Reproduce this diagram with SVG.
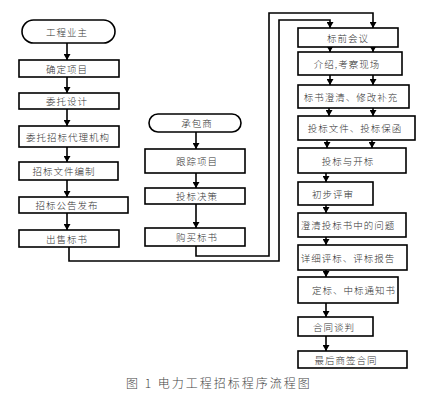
<svg xmlns="http://www.w3.org/2000/svg" width="439" height="403" viewBox="0 0 439 403">
<defs>
<marker id="ah" markerUnits="userSpaceOnUse" markerWidth="7" markerHeight="7" refX="6" refY="3.5" orient="auto">
<path d="M0,0 L6,3.5 L0,7 z" fill="#000"/>
</marker>
<style>
.b{fill:#fff;stroke:#000;stroke-width:1.6}
.t{font-family:"Noto Sans CJK SC","Noto Sans CJK JP",sans-serif;font-size:9.5px;font-weight:300;letter-spacing:1px;fill:#333;text-anchor:middle;dominant-baseline:central}
.c{fill:none;stroke:#000;stroke-width:1.6}
.a{fill:none;stroke:#000;stroke-width:1.6;marker-end:url(#ah)}
.cap{font-family:"Noto Sans CJK SC","Noto Sans CJK JP",sans-serif;font-size:12px;font-weight:300;letter-spacing:2px;fill:#444}
</style>
</defs>
<rect width="439" height="403" fill="#fff"/>
<g id="connectors">
<line class="a" x1="67" y1="43" x2="67" y2="60"/>
<line class="a" x1="67" y1="77" x2="67" y2="93"/>
<line class="a" x1="67" y1="109" x2="67" y2="126"/>
<line class="a" x1="67" y1="147" x2="67" y2="162"/>
<line class="a" x1="67" y1="180" x2="67" y2="197"/>
<line class="a" x1="67" y1="213" x2="67" y2="230"/>
<line class="a" x1="196" y1="132" x2="196" y2="149"/>
<line class="a" x1="196" y1="173" x2="196" y2="188"/>
<line class="a" x1="196" y1="204" x2="196" y2="228"/>
<polyline class="a" points="69,247 69,261 279,261 279,20 330,20 330,28"/>
<polyline class="a" points="196,246 196,256 269,256 269,13 373,13 373,28"/>
<line class="a" x1="330" y1="47" x2="330" y2="52"/>
<line class="a" x1="373" y1="47" x2="373" y2="52"/>
<line class="a" x1="330" y1="75" x2="330" y2="85"/>
<line class="a" x1="373" y1="75" x2="373" y2="85"/>
<line class="a" x1="329" y1="108" x2="329" y2="116"/>
<line class="a" x1="373" y1="108" x2="373" y2="116"/>
<line class="a" x1="327" y1="140" x2="327" y2="148"/>
<line class="a" x1="372" y1="140" x2="372" y2="148"/>
<line class="a" x1="326" y1="173" x2="326" y2="182"/>
<line class="a" x1="326" y1="205" x2="326" y2="213"/>
<line class="a" x1="326" y1="237" x2="326" y2="245"/>
<line class="a" x1="326" y1="270" x2="326" y2="277"/>
<line class="a" x1="326" y1="303" x2="326" y2="317"/>
<line class="a" x1="326" y1="336" x2="326" y2="351"/>
</g>
<g id="n_owner"><rect class="b" x="22" y="20" width="93" height="23" rx="11.5"/><text class="t" x="67" y="31.5">工程业主</text></g>
<g id="n_l1"><rect class="b" x="19" y="60" width="100" height="17"/><text class="t" x="67" y="68.5">确定项目</text></g>
<g id="n_l2"><rect class="b" x="19" y="93" width="100" height="16"/><text class="t" x="67" y="101">委托设计</text></g>
<g id="n_l3"><rect class="b" x="19" y="126" width="100" height="21"/><text class="t" x="68" y="136.5">委托招标代理机构</text></g>
<g id="n_l4"><rect class="b" x="19" y="162" width="99" height="18"/><text class="t" x="64" y="171">招标文件编制</text></g>
<g id="n_l5"><rect class="b" x="19" y="197" width="109" height="16"/><text class="t" x="67" y="205">招标公告发布</text></g>
<g id="n_l6"><rect class="b" x="19" y="230" width="100" height="17"/><text class="t" x="67" y="238.5">出售标书</text></g>
<g id="n_contractor"><rect class="b" x="149" y="114" width="92" height="18" rx="9"/><text class="t" x="197" y="123">承包商</text></g>
<g id="n_m1"><rect class="b" x="145" y="149" width="100" height="24"/><text class="t" x="197" y="161">跟踪项目</text></g>
<g id="n_m2"><rect class="b" x="145" y="188" width="100" height="16"/><text class="t" x="197" y="196">投标决策</text></g>
<g id="n_m3"><rect class="b" x="145" y="228" width="100" height="18"/><text class="t" x="197" y="237">购买标书</text></g>
<g id="n_r1"><rect class="b" x="298" y="28" width="100" height="19"/><text class="t" x="348" y="37.5">标前会议</text></g>
<g id="n_r2"><rect class="b" x="298" y="52" width="104" height="23"/><text class="t" x="347" y="63.5">介绍,考察现场</text></g>
<g id="n_r3"><rect class="b" x="298" y="85" width="111" height="23"/><text class="t" x="351" y="96.5">标书澄清、修改补充</text></g>
<g id="n_r4"><rect class="b" x="298" y="116" width="117" height="24"/><text class="t" x="355" y="128">投标文件、投标保函</text></g>
<g id="n_r5"><rect class="b" x="298" y="148" width="108" height="25"/><text class="t" x="348" y="160.5">投标与开标</text></g>
<g id="n_r6"><rect class="b" x="298" y="182" width="75" height="23"/><text class="t" x="333" y="193.5">初步评审</text></g>
<g id="n_r7"><rect class="b" x="298" y="213" width="108" height="24"/><text class="t" x="348" y="225">澄清投标书中的问题</text></g>
<g id="n_r8"><rect class="b" x="298" y="245" width="109" height="25"/><text class="t" x="348" y="257.5">详细评标、评标报告</text></g>
<g id="n_r9"><rect class="b" x="298" y="277" width="100" height="26"/><text class="t" x="354" y="290">定标、中标通知书</text></g>
<g id="n_r10"><rect class="b" x="298" y="317" width="75" height="19"/><text class="t" x="334" y="326.5">合同谈判</text></g>
<g id="n_r11"><rect class="b" x="298" y="351" width="109" height="17"/><text class="t" x="346" y="359.5">最后商签合同</text></g>
<text class="cap" x="126" y="388">图 1  电力工程招标程序流程图</text>
</svg>
